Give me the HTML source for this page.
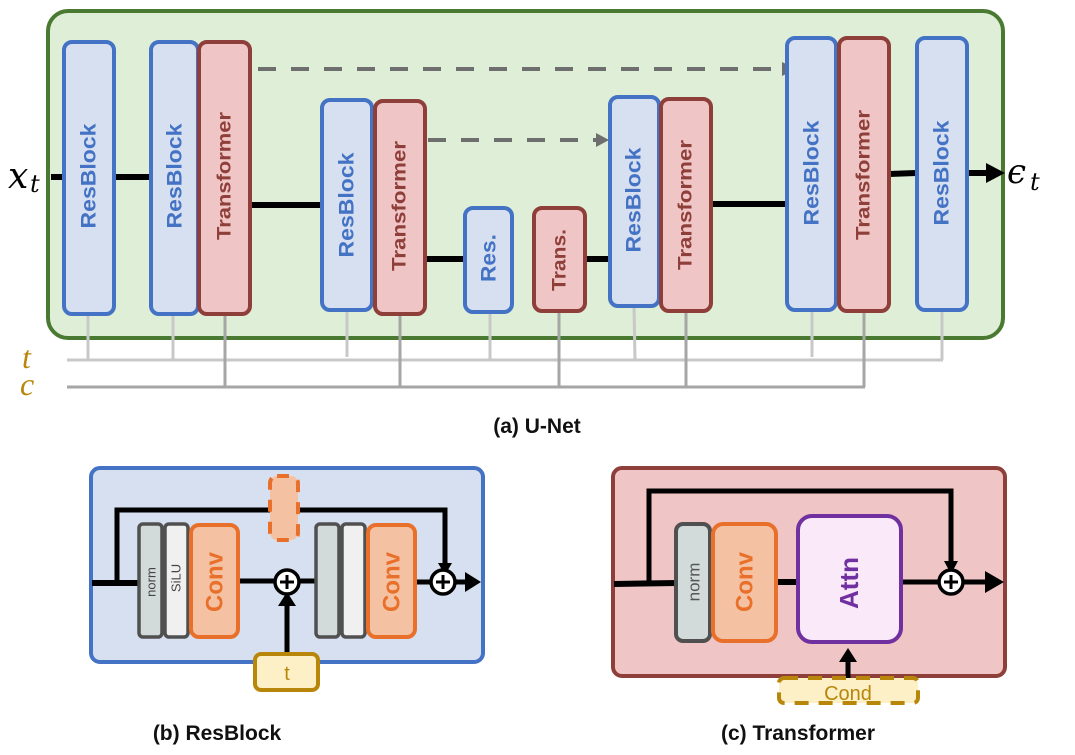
<!DOCTYPE html>
<html><head><meta charset="utf-8"><style>
html,body{margin:0;padding:0;background:#fff;}
svg{display:block;font-family:"Liberation Sans",sans-serif;}
.rb{fill:#d6e0f0;stroke:#4472c4;stroke-width:4;}
.tr{fill:#f0c5c5;stroke:#8f3f3a;stroke-width:4;}
.tb{fill:#4472c4;font-weight:bold;font-size:21px;}
.tt{fill:#8f3f3a;font-weight:bold;font-size:19px;}
.blk{stroke:#000;stroke-width:5;fill:none;}
.tl{stroke:#c8c8c8;stroke-width:3;}
.cl{stroke:#a6a6a6;stroke-width:3;}
</style></head><body>
<svg width="1075" height="755" viewBox="0 0 1075 755" xmlns="http://www.w3.org/2000/svg">
<defs>
<marker id="ah" markerWidth="8" markerHeight="8" refX="6" refY="4" orient="auto" markerUnits="userSpaceOnUse"><path d="M0,0 L8,4 L0,8 z" fill="#000"/></marker>
</defs>
<!-- U-Net outer -->
<rect x="48" y="11" width="955" height="327" rx="20" fill="#dfeed6" stroke="#4a7a32" stroke-width="4"/>

<!-- t and c lines -->
<line class="tl" x1="67" y1="360" x2="943" y2="360"/>
<line class="cl" x1="67" y1="387" x2="865" y2="387"/>
<g class="tl">
<line x1="88" y1="314" x2="88" y2="360"/><line x1="173" y1="314" x2="173" y2="360"/>
<line x1="347" y1="310" x2="347" y2="357"/><line x1="490" y1="312" x2="490" y2="360"/>
<line x1="634" y1="306" x2="635" y2="360"/><line x1="812" y1="310" x2="812" y2="357"/>
<line x1="942" y1="310" x2="942" y2="360"/>
</g>
<g class="cl">
<line x1="225" y1="314" x2="225" y2="387"/><line x1="400" y1="314" x2="400" y2="387"/>
<line x1="559" y1="311" x2="559" y2="387"/><line x1="686" y1="311" x2="686" y2="387"/>
<line x1="864" y1="311" x2="864" y2="387"/>
</g>
<text x="22" y="368" font-family="Liberation Serif,serif" font-style="italic" font-size="32" fill="#b8860b">t</text>
<text x="20" y="395" font-family="Liberation Serif,serif" font-style="italic" font-size="32" fill="#b8860b">c</text>

<!-- dashed skips -->
<line x1="258" y1="69" x2="782" y2="69" stroke="#6e6e6e" stroke-width="4" stroke-dasharray="18,15"/>
<path d="M782,62 L796,69 L782,76 z" fill="#6e6e6e"/>
<line x1="428" y1="140" x2="598" y2="140" stroke="#6e6e6e" stroke-width="4" stroke-dasharray="18,15"/>
<path d="M596,133 L609,140 L596,147 z" fill="#6e6e6e"/>

<!-- black connections -->
<g stroke="#000" stroke-width="6">
<line x1="51" y1="177" x2="64" y2="177"/>
<line x1="114" y1="177" x2="150" y2="177"/>
<line x1="250" y1="205" x2="322" y2="205"/>
<line x1="425" y1="259" x2="465" y2="259"/>
<line x1="585" y1="259" x2="610" y2="259"/>
<line x1="711" y1="204" x2="786" y2="204"/>
<line x1="889" y1="174" x2="916" y2="173"/>
<line x1="967" y1="173" x2="988" y2="173"/>
</g>
<path d="M986,163 L1005,173 L986,183 z" fill="#000"/>
<text x="8" y="188" font-family="DejaVu Serif,serif" font-style="italic" font-size="36">x</text>
<text x="30" y="192" font-family="DejaVu Serif,serif" font-style="italic" font-size="24">t</text>
<text x="1007" y="183" font-family="DejaVu Serif,serif" font-style="italic" font-size="34">ϵ</text>
<text x="1030" y="190" font-family="DejaVu Serif,serif" font-style="italic" font-size="24">t</text>

<!-- blocks -->
<rect class="rb" x="64" y="42" width="50" height="272" rx="8"/>
<rect class="rb" x="151" y="42" width="47" height="272" rx="8"/>
<rect class="tr" x="199" y="42" width="51" height="272" rx="8"/>
<rect class="rb" x="322" y="100" width="50" height="210" rx="8"/>
<rect class="tr" x="375" y="101" width="50" height="213" rx="8"/>
<rect class="rb" x="465" y="208" width="47" height="104" rx="8"/>
<rect class="tr" x="534" y="208" width="51" height="103" rx="8"/>
<rect class="rb" x="610" y="97" width="49" height="209" rx="8"/>
<rect class="tr" x="661" y="99" width="50" height="212" rx="8"/>
<rect class="rb" x="787" y="38" width="49" height="272" rx="8"/>
<rect class="tr" x="839" y="38" width="50" height="273" rx="8"/>
<rect class="rb" x="917" y="38" width="50" height="272" rx="8"/>

<g text-anchor="middle" dominant-baseline="central">
<text class="tb" transform="translate(89,176) rotate(-90)" textLength="105" lengthAdjust="spacingAndGlyphs">ResBlock</text>
<text class="tb" transform="translate(175,176) rotate(-90)" textLength="105" lengthAdjust="spacingAndGlyphs">ResBlock</text>
<text class="tt" transform="translate(225,176) rotate(-90)" textLength="128" lengthAdjust="spacingAndGlyphs">Transformer</text>
<text class="tb" transform="translate(347,205) rotate(-90)" textLength="105" lengthAdjust="spacingAndGlyphs">ResBlock</text>
<text class="tt" transform="translate(400,206) rotate(-90)" textLength="130" lengthAdjust="spacingAndGlyphs">Transformer</text>
<text class="tb" transform="translate(489,258) rotate(-90)" textLength="48" lengthAdjust="spacingAndGlyphs">Res.</text>
<text class="tt" transform="translate(560,260) rotate(-90)" textLength="62" lengthAdjust="spacingAndGlyphs">Trans.</text>
<text class="tb" transform="translate(634,200) rotate(-90)" textLength="105" lengthAdjust="spacingAndGlyphs">ResBlock</text>
<text class="tt" transform="translate(686,205) rotate(-90)" textLength="130" lengthAdjust="spacingAndGlyphs">Transformer</text>
<text class="tb" transform="translate(812,173) rotate(-90)" textLength="105" lengthAdjust="spacingAndGlyphs">ResBlock</text>
<text class="tt" transform="translate(864,175) rotate(-90)" textLength="130" lengthAdjust="spacingAndGlyphs">Transformer</text>
<text class="tb" transform="translate(942,173) rotate(-90)" textLength="105" lengthAdjust="spacingAndGlyphs">ResBlock</text>
</g>

<text x="537" y="433" text-anchor="middle" font-weight="bold" font-size="21" fill="#111">(a) U-Net</text>

<!-- (b) ResBlock -->
<rect x="91" y="468" width="392" height="194" rx="9" fill="#d6e0f0" stroke="#4472c4" stroke-width="4"/>
<path d="M117,583 L117,510 L445,510 L445,566" class="blk" stroke-width="3.5"/>
<path d="M438,563 L452,563 L445,575 z" fill="#000"/>
<line x1="92" y1="583" x2="140" y2="583" stroke="#000" stroke-width="6"/>
<line x1="238" y1="581" x2="316" y2="581" stroke="#000" stroke-width="5"/>
<line x1="415" y1="582" x2="470" y2="582" stroke="#000" stroke-width="5"/>
<path d="M465,572 L481,582 L465,592 z" fill="#000"/>
<rect x="270" y="476" width="28" height="64" rx="7" fill="#f4c2a2" stroke="#e8702a" stroke-width="4" stroke-dasharray="12,10"/>
<rect x="139" y="524" width="23" height="113" rx="4" fill="#d3dada" stroke="#505050" stroke-width="3.5"/>
<rect x="165" y="524" width="23" height="113" rx="4" fill="#f0f0f0" stroke="#505050" stroke-width="3.5"/>
<rect x="191" y="525" width="47" height="112" rx="8" fill="#f4c2a2" stroke="#e8702a" stroke-width="4"/>
<rect x="316" y="524" width="23" height="113" rx="4" fill="#d3dada" stroke="#505050" stroke-width="3.5"/>
<rect x="342" y="524" width="23" height="113" rx="4" fill="#f0f0f0" stroke="#505050" stroke-width="3.5"/>
<rect x="368" y="525" width="47" height="112" rx="8" fill="#f4c2a2" stroke="#e8702a" stroke-width="4"/>
<g text-anchor="middle" dominant-baseline="central">
<text transform="translate(151,582) rotate(-90)" font-size="13" fill="#444">norm</text>
<text transform="translate(176,578) rotate(-90)" font-size="13" fill="#444">SiLU</text>
<text transform="translate(215,582) rotate(-90)" font-size="24" font-weight="bold" fill="#e8702a">Conv</text>
<text transform="translate(392,582) rotate(-90)" font-size="24" font-weight="bold" fill="#e8702a">Conv</text>
</g>
<line x1="287" y1="655" x2="287" y2="604" stroke="#000" stroke-width="5"/>
<path d="M278,606 L287,592 L296,606 z" fill="#000"/>
<circle cx="287" cy="582" r="12" fill="#fff" stroke="#000" stroke-width="3.5"/>
<path d="M280,582 H294 M287,575 V589" stroke="#000" stroke-width="3"/>
<circle cx="443" cy="582" r="12" fill="#fff" stroke="#000" stroke-width="3.5"/>
<path d="M436,582 H450 M443,575 V589" stroke="#000" stroke-width="3"/>
<rect x="255" y="654" width="63" height="36" rx="6" fill="#fdefc6" stroke="#b8860b" stroke-width="4"/>
<text x="287" y="680" text-anchor="middle" font-size="20" fill="#b8860b">t</text>
<text x="217" y="740" text-anchor="middle" font-weight="bold" font-size="21" fill="#111">(b) ResBlock</text>

<!-- (c) Transformer -->
<rect x="613" y="468" width="392" height="208" rx="9" fill="#f0c5c5" stroke="#8f3f3a" stroke-width="4"/>
<path d="M649,584 L649,491 L951,491 L951,566" class="blk" stroke-width="4"/>
<path d="M944,561 L958,561 L951,574 z" fill="#000"/>
<line x1="614" y1="584" x2="677" y2="583" stroke="#000" stroke-width="6"/>
<line x1="776" y1="582" x2="798" y2="582" stroke="#000" stroke-width="6"/>
<line x1="902" y1="582" x2="990" y2="582" stroke="#000" stroke-width="5"/>
<path d="M985,571 L1004,582 L985,593 z" fill="#000"/>
<rect x="676" y="524" width="34" height="117" rx="7" fill="#d3dada" stroke="#505050" stroke-width="4"/>
<rect x="713" y="524" width="63" height="117" rx="10" fill="#f4c2a2" stroke="#e8702a" stroke-width="4"/>
<rect x="798" y="516" width="103" height="126" rx="14" fill="#f9e9f9" stroke="#7030a0" stroke-width="4"/>
<g text-anchor="middle" dominant-baseline="central">
<text transform="translate(694,582) rotate(-90)" font-size="17" fill="#555">norm</text>
<text transform="translate(745,582) rotate(-90)" font-size="24" font-weight="bold" fill="#e8702a">Conv</text>
<text transform="translate(849,583) rotate(-90)" font-size="26" font-weight="bold" fill="#7030a0">Attn</text>
</g>
<circle cx="951" cy="582" r="12" fill="#fff" stroke="#000" stroke-width="3.5"/>
<path d="M944,582 H958 M951,575 V589" stroke="#000" stroke-width="3"/>
<line x1="848" y1="680" x2="848" y2="660" stroke="#000" stroke-width="5"/>
<path d="M839,662 L848,648 L857,662 z" fill="#000"/>
<rect x="779" y="678" width="139" height="25" rx="5" fill="#fdefc6" stroke="#b8860b" stroke-width="4" stroke-dasharray="14,10"/>
<text x="848" y="700" text-anchor="middle" font-size="20" fill="#b8860b">Cond</text>
<text x="798" y="740" text-anchor="middle" font-weight="bold" font-size="21" fill="#111">(c) Transformer</text>
</svg>
</body></html>
